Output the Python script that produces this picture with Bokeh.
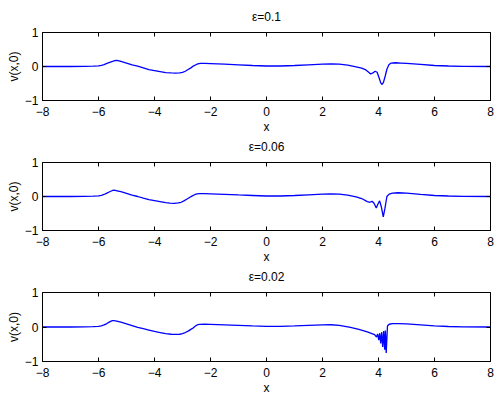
from bokeh.plotting import figure
from bokeh.layouts import column
from bokeh.models import LinearAxis, FixedTicker, Range1d
from bokeh.embed import file_html
from bokeh.resources import INLINE

# ---------------- data ----------------
x_ticks = [-8, -6, -4, -2, 0, 2, 4, 6, 8]
y_ticks = [-1, 0, 1]
titles = ["ε=0.1", "ε=0.06", "ε=0.02"]

x_eps010 = [-8.0, -7.0, -6.5, -6.2, -6.0, -5.9, -5.8, -5.7, -5.6, -5.5, -5.42, -5.36, -5.3, -5.2,
            -5.0, -4.8, -4.6, -4.4, -4.2, -4.0, -3.8, -3.6, -3.4, -3.25, -3.1, -3.0, -2.9, -2.8,
            -2.7, -2.6, -2.5, -2.42, -2.35, -2.2, -2.0, -1.5, -1.0, -0.5, 0.0, 0.5, 1.0, 1.5,
            2.0, 2.3, 2.6, 2.9, 3.2, 3.4, 3.55, 3.65, 3.72, 3.8, 3.88, 3.95, 4.02, 4.08, 4.13,
            4.18, 4.24, 4.3, 4.37, 4.45, 4.6, 4.8, 5.0, 5.5, 6.0, 6.5, 7.0, 8.0]
v_eps010 = [0.0, 0.0, 0.003, 0.01, 0.02, 0.035, 0.055, 0.09, 0.12, 0.15, 0.175, 0.18, 0.17, 0.15,
            0.10, 0.05, 0.01, -0.04, -0.09, -0.12, -0.15, -0.18, -0.19, -0.196, -0.19, -0.175,
            -0.14, -0.09, -0.04, 0.02, 0.06, 0.085, 0.09, 0.09, 0.085, 0.07, 0.05, 0.03, 0.015,
            0.015, 0.03, 0.05, 0.07, 0.08, 0.07, 0.04, -0.01, -0.05, -0.1, -0.17, -0.22, -0.19,
            -0.14, -0.17, -0.33, -0.48, -0.53, -0.46, -0.28, -0.08, 0.05, 0.1, 0.11, 0.1, 0.09,
            0.06, 0.03, 0.015, 0.005, 0.0]

x_eps006 = [-8.0, -7.0, -6.5, -6.2, -6.0, -5.9, -5.8, -5.7, -5.6, -5.52, -5.45, -5.4, -5.3, -5.2,
            -5.0, -4.8, -4.6, -4.4, -4.2, -4.0, -3.8, -3.6, -3.45, -3.3, -3.15, -3.05, -2.95,
            -2.85, -2.75, -2.65, -2.55, -2.47, -2.4, -2.2, -2.0, -1.5, -1.0, -0.5, 0.0, 0.5, 1.0,
            1.5, 2.0, 2.3, 2.6, 2.9, 3.2, 3.4, 3.6, 3.7, 3.77, 3.84, 3.92, 3.98, 4.04, 4.1, 4.17,
            4.23, 4.3, 4.38, 4.5, 4.7, 5.0, 5.5, 6.0, 6.5, 7.0, 8.0]
v_eps006 = [0.0, 0.0, 0.003, 0.01, 0.02, 0.035, 0.06, 0.1, 0.14, 0.17, 0.185, 0.18, 0.16, 0.14,
            0.09, 0.04, 0.0, -0.05, -0.09, -0.12, -0.15, -0.18, -0.195, -0.2, -0.19, -0.17, -0.13,
            -0.08, -0.03, 0.02, 0.06, 0.08, 0.085, 0.085, 0.08, 0.065, 0.045, 0.03, 0.015, 0.015,
            0.03, 0.05, 0.07, 0.08, 0.07, 0.04, -0.01, -0.06, -0.15, -0.17, -0.14, -0.2, -0.34,
            -0.22, -0.13, -0.3, -0.6, -0.35, 0.0, 0.07, 0.1, 0.11, 0.1, 0.06, 0.03, 0.015, 0.005,
            0.0]

x_eps002 = [-8.0, -7.0, -6.5, -6.2, -6.0, -5.9, -5.8, -5.7, -5.62, -5.55, -5.5, -5.45, -5.35,
            -5.2, -5.0, -4.8, -4.6, -4.4, -4.2, -4.0, -3.8, -3.6, -3.4, -3.25, -3.1, -3.0, -2.9,
            -2.8, -2.7, -2.62, -2.55, -2.48, -2.4, -2.2, -2.0, -1.5, -1.0, -0.5, 0.0, 0.5, 1.0,
            1.5, 2.0, 2.3, 2.6, 3.0, 3.3, 3.6, 3.86, 3.93, 3.97, 4.01, 4.045, 4.08, 4.115, 4.15,
            4.185, 4.22, 4.245, 4.275, 4.32, 4.38, 4.5, 4.7, 5.0, 5.5, 6.0, 6.5, 7.0, 8.0]
v_eps002 = [0.0, 0.0, 0.003, 0.01, 0.02, 0.035, 0.06, 0.1, 0.14, 0.17, 0.185, 0.185, 0.17, 0.14,
            0.09, 0.04, -0.01, -0.05, -0.09, -0.13, -0.16, -0.19, -0.21, -0.215, -0.21, -0.19,
            -0.16, -0.12, -0.07, -0.03, 0.02, 0.06, 0.075, 0.08, 0.075, 0.06, 0.045, 0.03, 0.02,
            0.02, 0.03, 0.045, 0.06, 0.065, 0.05, -0.01, -0.07, -0.14, -0.22, -0.29, -0.2, -0.38,
            -0.18, -0.48, -0.15, -0.58, -0.12, -0.66, -0.1, -0.75, 0.03, 0.08, 0.1, 0.1, 0.09,
            0.06, 0.03, 0.015, 0.005, 0.0]

series = [(x_eps010, v_eps010), (x_eps006, v_eps006), (x_eps002, v_eps002)]

FONT = "Liberation Sans"
FS = "12px"


def minus(v):
    return ("\u2212" + str(abs(v))) if v < 0 else str(v)


def make(title, xs, ys, frame_h, top, below):
    p = figure(output_backend="svg", toolbar_location=None,
               frame_width=448, frame_height=frame_h,
               min_border_left=42, min_border_right=6,
               min_border_top=top, min_border_bottom=below,
               x_range=Range1d(-8, 8), y_range=Range1d(-1, 1))
    p.xgrid.visible = False
    p.ygrid.visible = False
    p.outline_line_color = "black"
    p.outline_line_width = 1
    p.background_fill_color = "white"
    p.border_fill_color = "white"

    for ax, ticks in ((p.xaxis[0], x_ticks), (p.yaxis[0], y_ticks)):
        ax.ticker = FixedTicker(ticks=ticks)
        ax.major_label_overrides = {t: minus(t) for t in ticks}
        ax.major_tick_in = 4
        ax.major_tick_out = 0
        ax.minor_tick_line_color = None
        ax.axis_line_color = "black"
        ax.major_tick_line_color = "black"
        ax.major_label_text_font = FONT
        ax.major_label_text_font_size = FS
        ax.major_label_text_color = "black"
        ax.axis_label_text_font = FONT
        ax.axis_label_text_font_size = FS
        ax.axis_label_text_font_style = "normal"
        ax.axis_label_text_color = "black"
    p.xaxis[0].axis_label = "x"
    p.xaxis[0].major_label_standoff = 6
    p.xaxis[0].axis_label_standoff = 1
    p.yaxis[0].axis_label = "v(x,0)"
    p.yaxis[0].major_label_standoff = 4
    p.yaxis[0].axis_label_standoff = 1

    # ticks on the top and right edges of the box (no tick labels);
    # the top one carries the subplot title
    for loc, ticks in (("above", x_ticks), ("right", y_ticks)):
        ax = LinearAxis(ticker=FixedTicker(ticks=ticks))
        ax.major_label_text_font_size = "1px"
        ax.major_label_text_color = None
        ax.major_label_standoff = 0
        ax.major_tick_in = 4
        ax.major_tick_out = 0
        ax.minor_tick_line_color = None
        ax.axis_line_color = None
        ax.major_tick_line_color = "black"
        if loc == "above":
            ax.axis_label = title
            ax.axis_label_text_font = FONT
            ax.axis_label_text_font_size = FS
            ax.axis_label_text_font_style = "normal"
            ax.axis_label_text_color = "black"
            ax.axis_label_standoff = 9
        p.add_layout(ax, loc)

    p.line(xs, ys, line_color="#0000ff", line_width=1.3)
    return p


heights = [68, 68, 69]
tops = [32, 26, 26]
belows = [36, 36, 36]
figs = [make(t, xs, ys, heights[i], tops[i], belows[i])
        for i, (t, (xs, ys)) in enumerate(zip(titles, series))]

layout = column(*figs, spacing=0)
open("out.html", "w").write(file_html(layout, INLINE))
